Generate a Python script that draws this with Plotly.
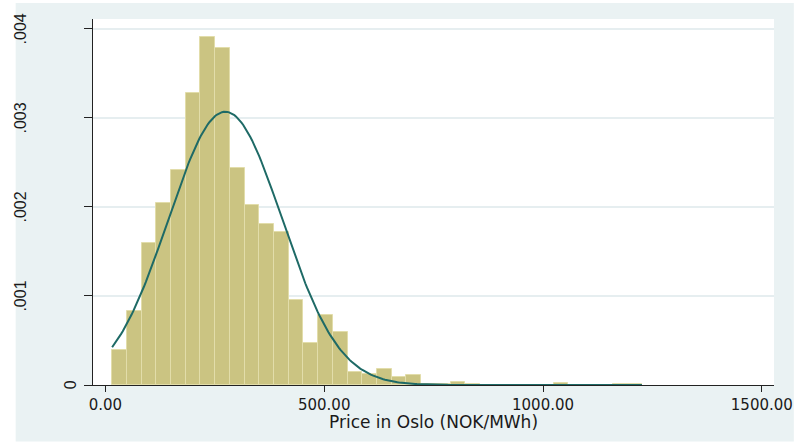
import numpy as np
import plotly.graph_objects as go

# ---- data ----
bin_start = 15.4          # lower edge of first bin (NOK/MWh)
bin_width = 33.63         # bin width
density = [0.000392, 0.000829, 0.001595, 0.002043, 0.002409, 0.003279,
           0.003910, 0.003790, 0.002435, 0.002017, 0.001804, 0.001714,
           0.000952, 0.000474, 0.000784, 0.000597, 0.000149, 0.000123,
           0.000175, 0.000090, 0.000112, 0.000010, 0.000015, 0.000030,
           0.000015, 0.0, 0.0, 0.0, 0.0, 0.0,
           0.000020, 0.0, 0.0, 0.0, 0.000010, 0.000010]
norm_mean = 274.0         # normal overlay parameters
norm_sd = 130.0
x_ticks = [0, 500, 1000, 1500]
x_tick_labels = ["0.00", "500.00", "1000.00", "1500.00"]
y_ticks = [0, 0.001, 0.002, 0.003, 0.004]
y_tick_labels = ["0", ".001", ".002", ".003", ".004"]
x_title = "Price in Oslo (NOK/MWh)"

# ---- derived ----
n = len(density)
centers = [bin_start + bin_width * (i + 0.5) for i in range(n)]
x_max = bin_start + bin_width * n
xs = np.linspace(bin_start, x_max, 300)
pdf = np.exp(-0.5 * ((xs - norm_mean) / norm_sd) ** 2) / (norm_sd * np.sqrt(2 * np.pi))

fig = go.Figure()
fig.add_trace(go.Bar(
    x=centers, y=density, width=bin_width,
    marker=dict(color="#CBC482", line=dict(color="#E2DDAA", width=1)),
    hoverinfo="skip",
))
fig.add_trace(go.Scatter(
    x=xs, y=pdf, mode="lines",
    line=dict(color="#1E6A66", width=2),
    hoverinfo="skip",
))

W, H = 805, 443
ml, mr, mt, mb = 93, 25, 19, 58
pw, ph = W - ml - mr, H - mt - mb

def px_x(p):
    return (p - ml) / pw

def px_y(p):
    return (H - mb - p) / ph

shapes = [
    dict(type="rect", xref="paper", yref="paper",
         x0=px_x(15), x1=px_x(800), y0=px_y(441.5), y1=px_y(3),
         fillcolor="#EAF2F3", line=dict(width=0), layer="below"),
    dict(type="rect", xref="paper", yref="paper",
         x0=0, x1=1, y0=0, y1=1,
         fillcolor="white", line=dict(width=0), layer="below"),
]

annotations = []
for v, t in zip(y_ticks, y_tick_labels):
    xc = 70 if t == "0" else 20
    annotations.append(dict(
        x=px_x(xc), y=v, xref="paper", yref="y", text=t, showarrow=False,
        textangle=-90, xanchor="center", yanchor="middle",
        font=dict(family="Liberation Sans", size=16, color="#1a1a1a"),
    ))
annotations.append(dict(
    x=0.5, y=px_y(421.5), xref="paper", yref="paper", text=x_title,
    showarrow=False, xanchor="center", yanchor="middle",
    font=dict(family="DejaVu Sans", size=17, color="#1a1a1a"),
))

fig.update_layout(
    width=W, height=H,
    margin=dict(l=ml, r=mr, t=mt, b=mb, pad=0),
    paper_bgcolor="white", plot_bgcolor="white",
    showlegend=False, bargap=0, hovermode=False,
    shapes=shapes, annotations=annotations,
    xaxis=dict(
        range=[-28.3, 1527.8], tickvals=x_ticks, ticktext=x_tick_labels,
        ticks="outside", ticklen=6, tickcolor="#222", tickwidth=1,
        showline=True, linecolor="#222", linewidth=1,
        showgrid=False, zeroline=False,
        tickfont=dict(family="DejaVu Sans", size=15, color="#1a1a1a"),
    ),
    yaxis=dict(
        range=[0, 0.00411], tickvals=y_ticks, showticklabels=False,
        ticks="outside", ticklen=8, tickcolor="#222", tickwidth=1,
        showline=True, linecolor="#222", linewidth=1,
        showgrid=True, gridcolor="#E6EEF0", gridwidth=1.5,
        zeroline=False,
    ),
)

fig.write_html("out.html")
